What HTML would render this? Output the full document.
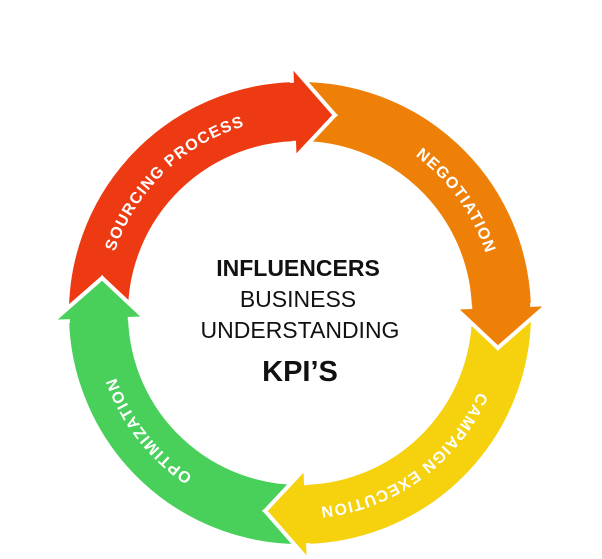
<!DOCTYPE html>
<html><head><meta charset="utf-8"><style>
html,body{margin:0;padding:0;background:#fff;}
svg{display:block;}
</style></head><body>
<svg id="s" width="602" height="559" viewBox="0 0 602 559" xmlns="http://www.w3.org/2000/svg">
<defs>
<path id="circ" d="M300,118 A195,195 0 1 1 300,508 A195,195 0 1 1 300,118"/>
</defs>
<g id="arrows"></g>
<g font-family="'Liberation Sans',sans-serif" fill="#fff" font-size="16" letter-spacing="1.2" font-weight="bold">
<text><textPath href="#circ" startOffset="1075" text-anchor="middle">SOURCING PROCESS</textPath></text>
<text><textPath href="#circ" startOffset="185" text-anchor="middle">NEGOTIATION</textPath></text>
<text><textPath href="#circ" startOffset="490" text-anchor="middle">CAMPAIGN EXECUTION</textPath></text>
<text><textPath href="#circ" startOffset="790" text-anchor="middle">OPTIMIZATION</textPath></text>
</g>
<g font-family="'Liberation Sans',sans-serif" fill="#111" text-anchor="middle">
<text x="298" y="276" font-size="23" font-weight="bold">INFLUENCERS</text>
<text x="298" y="307" font-size="23">BUSINESS</text>
<text x="300" y="338" font-size="23">UNDERSTANDING</text>
<text x="300" y="381" font-size="29" font-weight="bold">KPI’S</text>
</g>
</svg>
<script>
(function(){
var cx=300,cy=313,R=233,r=170,m=201,ext=15,d=12;
function p(rho,t){t=t*Math.PI/180;return (cx+rho*Math.sin(t)).toFixed(1)+','+(cy-rho*Math.cos(t)).toFixed(1);}
var segs=[[-80,10,'#ee3a12'],[10,100,'#ee8008'],[100,190,'#f5d10e'],[190,280,'#48d05a']];
var g=document.getElementById('arrows'),h='',h2='',h3='';
segs.forEach(function(s,i){
 var a0=s[0]-d,tip=s[1],a1=tip-d;
 var dpath='M'+p(R,a0)+' A'+R+','+R+' 0 0 1 '+p(R,a1)+' L'+p(R+ext,a1)+' L'+p(m,tip)+' L'+p(r-ext,a1)+' L'+p(r,a1)+
 ' A'+r+','+r+' 0 0 0 '+p(r,a0)+' L'+p(m,s[0])+' Z';
 h+='<path d="'+dpath+'" fill="'+s[2]+'" stroke="#fff" stroke-width="4" stroke-linejoin="miter"/>';
 h2+='<path d="M'+p(R+ext,a1)+' L'+p(m,tip)+' L'+p(r-ext,a1)+' Z" fill="'+s[2]+'" stroke="#fff" stroke-width="4" stroke-linejoin="miter"/>';
 h3+='<path d="M'+p(R-2.5,a1-3)+' L'+p(R-2.5,a1+2)+' L'+p(r+2.5,a1+2)+' L'+p(r+2.5,a1-3)+' Z" fill="'+s[2]+'"/>';
});
g.innerHTML=h+h2+h3;
})();
</script>
</body></html>
